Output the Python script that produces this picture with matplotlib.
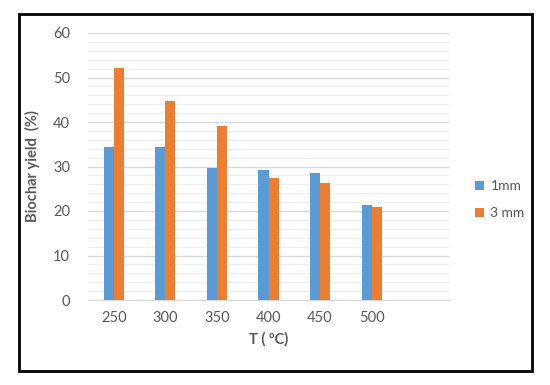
import numpy as np
import matplotlib
matplotlib.use("Agg")
from matplotlib import pyplot as plt
from matplotlib.patches import Rectangle

plt.rcParams.update({
    "font.family": ["Lato", "DejaVu Sans"],
    "font.size": 10,
})

temps = ["250", "300", "350", "400", "450", "500"]
yield_1mm = [34.4, 34.3, 29.6, 29.2, 28.6, 21.4]
yield_3mm = [52.2, 44.7, 39.2, 27.5, 26.4, 20.9]

blue = '#5B9BD5'
orange = '#ED7D31'
grey = '#595959'

fig = plt.figure(figsize=(5.5, 3.85), dpi=100)
ax = fig.add_axes([88/550, 1 - 300/385, (449-88)/550, 267/385])

x = np.arange(len(temps))
w = 0.195
ax.bar(x - w/2, yield_1mm, width=w, color=blue, label='1mm', zorder=3)
ax.bar(x + w/2, yield_3mm, width=w, color=orange, label='3 mm', zorder=3)

ax.set_xlim(-0.5, 6.5)
ax.set_ylim(0, 60)
ax.set_xticks(x, temps)
ax.set_yticks(np.arange(0, 61, 10))
ax.set_yticks(np.arange(0, 61, 2), minor=True)
ax.grid(axis='y', which='major', color='#D9D9D9', lw=1, zorder=0)
ax.grid(axis='y', which='minor', color='#F0F0F0', lw=0.8, zorder=0)
ax.tick_params(which='both', length=0, colors=grey, labelsize=10.5)
ax.tick_params(axis='x', pad=8)
ax.tick_params(axis='y', pad=13)
for s in ['top', 'right', 'left']:
    ax.spines[s].set_visible(False)
ax.spines['bottom'].set_color('#D9D9D9')

ax.set_ylabel('Biochar yield  (%)', fontweight='bold', color=grey, fontsize=10.5, labelpad=9)
ax.set_xlabel('T ( ºC)', fontweight='bold', color=grey, fontsize=10.5, labelpad=5)

leg = fig.legend(loc='upper left', bbox_to_anchor=(462/550, 1 - 168/385), frameon=False,
                 handlelength=0.65, handleheight=0.65, handletextpad=0.5,
                 labelspacing=1.05, fontsize=10)
for t in leg.get_texts():
    t.set_color(grey)

# outer frame
fig.patches.append(Rectangle((19/550, 1 - 371/385), (532-19)/550, (371-14)/385,
                             transform=fig.transFigure, fill=False,
                             edgecolor='black', lw=2))

fig.savefig('out.png', dpi=100)
